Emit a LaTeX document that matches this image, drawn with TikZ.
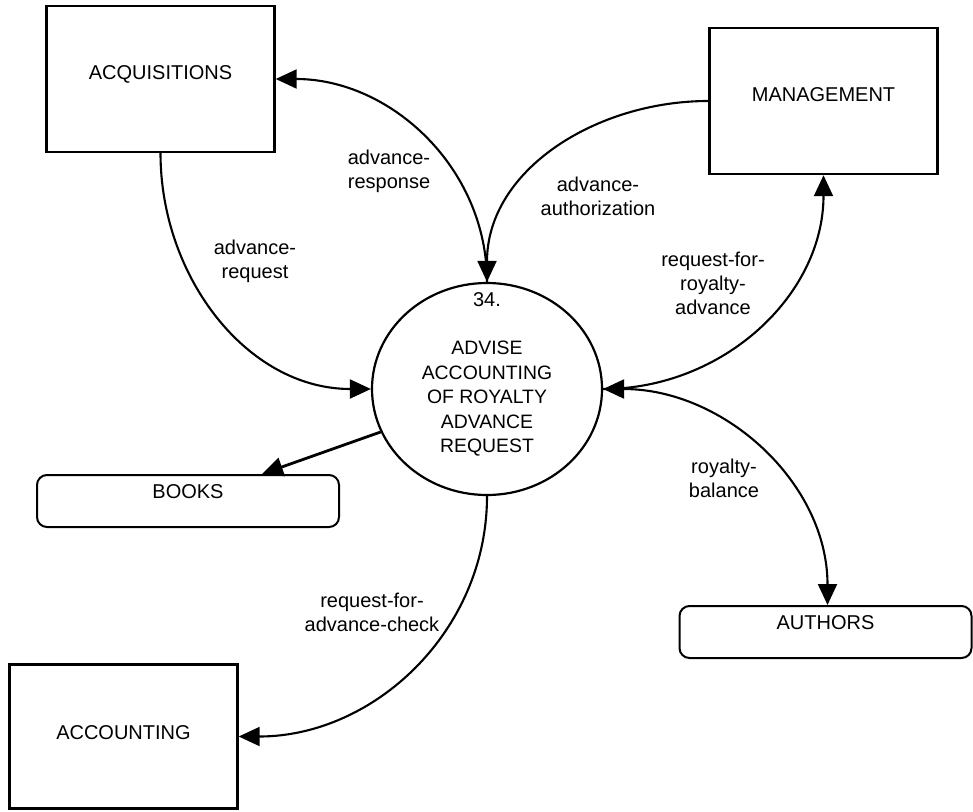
\documentclass[tikz,border=0pt]{standalone}
\usepackage{fontspec}
\setmainfont{Liberation Sans}
\usetikzlibrary{arrows.meta,shapes.geometric}

\begin{document}
\begin{tikzpicture}[x=50pt,y=50pt,>={Triangle[length=10.5pt,width=9.5pt]},
 every node/.style={font=\fontsize{10}{12}\selectfont,inner sep=3pt},
 ext/.style={draw,line width=1.2pt,minimum width=114pt,minimum height=73pt,text depth=6pt},
 store/.style={draw,line width=1pt,rounded corners=5pt,minimum height=26pt,text depth=9pt},
 proc/.style={draw,ellipse,line width=1.1pt,minimum width=115pt,minimum height=106pt},
 flow/.style={line width=1.05pt},
 lbl/.style={align=center}]
\useasboundingbox (0,0) rectangle (9.73,8.11);
\node[ext] (acq) at (1.605,7.32) {ACQUISITIONS};
\node[ext] (mgmt) at (8.235,7.10) {MANAGEMENT};
\node[ext,minimum height=72pt,text depth=4pt] (acct) at (1.235,0.745) {ACCOUNTING};
\node[store,minimum width=151pt] (books) at (1.88,3.10) {BOOKS};
\node[store,minimum width=146pt] (authors) at (8.255,1.79) {AUTHORS};
\node[proc] (proc) at (4.87,4.22) {};
\node (num) at (4.87,5.11) {34.};
\node[align=center,font=\fontsize{9.7}{12.25}\selectfont] (ptxt) at (4.87,4.12)
 {ADVISE\\ACCOUNTING\\OF ROYALTY\\ADVANCE\\REQUEST};
\draw[flow,<-] (acq.east) to[out=0,in=90] (proc.north);
\draw[flow,->] (mgmt.west) to[out=180,in=90] (proc.north);
\draw[flow,->] (acq.south) to[out=-90,in=180] (proc.west);
\draw[flow,->] (proc.east) to[out=0,in=-90] (mgmt.south);
\draw[flow,<->] (proc.east) to[out=0,in=90] ([xshift=1pt]authors.north);
\draw[flow,->,line width=1.4pt] (proc.202) -- ([xshift=37pt]books.north);
\draw[flow,->] (proc.south) to[out=-90,in=0] (acct.east);
\node[lbl] (l1) at (3.89,6.40) {advance-\\response};
\node[lbl] (l2) at (2.55,5.50) {advance-\\request};
\node[lbl] (l3) at (5.98,6.15) {advance-\\authorization};
\node[lbl] (l4) at (7.13,5.28) {request-for-\\royalty-\\advance};
\node[lbl] (l5) at (7.24,3.33) {royalty-\\balance};
\node[lbl] (l6) at (3.72,1.99) {request-for-\\advance-check};
\end{tikzpicture}
\end{document}
